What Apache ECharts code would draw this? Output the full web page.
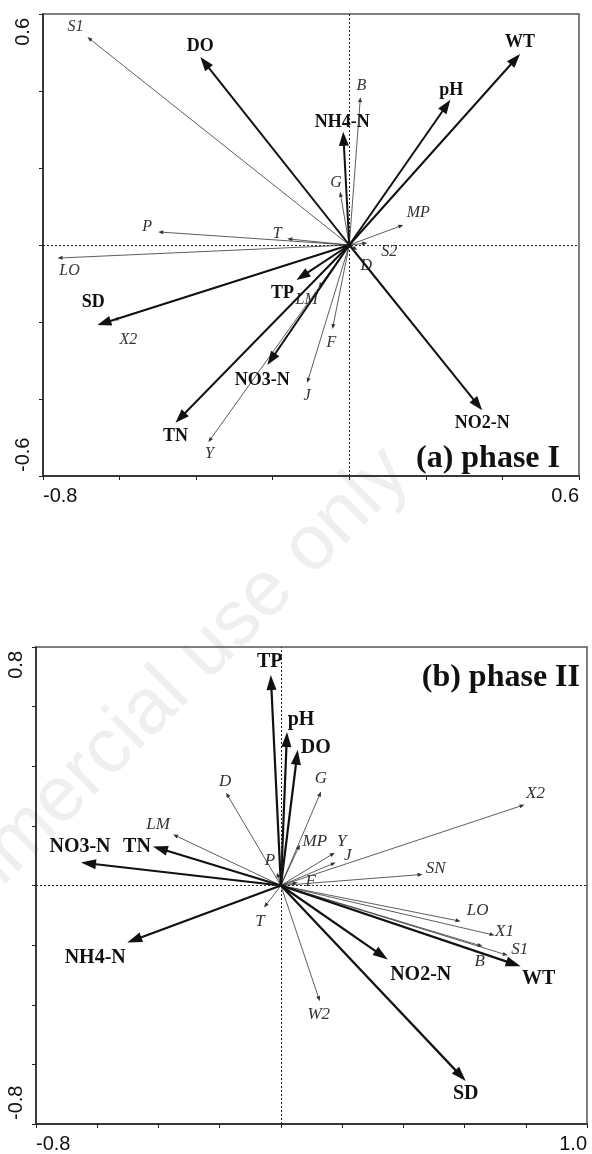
<!DOCTYPE html>
<html>
<head>
<meta charset="utf-8">
<script src="https://cdn.jsdelivr.net/npm/echarts@6/dist/echarts.min.js"></script>
<style>
html,body{margin:0;padding:0;background:#fff;}
#chart{width:592px;height:1154px;}
</style>
</head>
<body>
<div id="chart"></div>
<script>
// ---------- DATA ----------
// Panel (a) phase I : environmental variables
const aEnvNames = ['DO','NH4-N','pH','WT','SD','TP','NO3-N','TN','NO2-N'];
const aEnvX = [-0.389,-0.016,0.264,0.446,-0.658,-0.138,-0.214,-0.454,0.347];
const aEnvY = [0.488,0.294,0.377,0.496,-0.208,-0.091,-0.312,-0.462,-0.429];
// Panel (a) phase I : species
const aSpNames = ['S1','P','T','LO','X2','Y','J','F','LM','D','S2','MP','G','B'];
const aSpX = [-0.684,-0.499,-0.162,-0.762,-0.616,-0.368,-0.110,-0.044,-0.080,0.021,0.047,0.141,-0.024,0.029];
const aSpY = [0.540,0.034,0.016,-0.034,-0.195,-0.512,-0.358,-0.218,-0.110,-0.013,0.005,0.052,0.138,0.384];
// Panel (b) phase II : environmental variables
const bEnvNames = ['TP','pH','DO','NO3-N','TN','NH4-N','NO2-N','WT','SD'];
const bEnvX = [-0.033,0.020,0.055,-0.653,-0.418,-0.502,0.349,0.783,0.604];
const bEnvY = [0.706,0.515,0.455,0.077,0.131,-0.191,-0.248,-0.271,-0.656];
// Panel (b) phase II : species
const bSpNames = ['D','LM','P','T','MP','Y','J','F','G','X2','SN','LO','X1','S1','B','W2'];
const bSpX = [-0.179,-0.352,-0.013,-0.055,0.062,0.176,0.179,0.055,0.131,0.796,0.463,0.587,0.698,0.741,0.659,0.127];
const bSpY = [0.311,0.171,0.044,-0.074,0.137,0.110,0.077,0.010,0.315,0.271,0.037,-0.120,-0.167,-0.234,-0.204,-0.388];
// Axis tick labels (shown only at the ends)
const aXTickLabels = ['-0.8','0.6'];
const aYTickLabels = ['-0.6','0.6'];
const bXTickLabels = ['-0.8','1.0'];
const bYTickLabels = ['-0.8','0.8'];
const panelTitles = ['(a) phase I','(b) phase II'];
const watermarkText = 'For non-commercial use only';

// ---------- LAYOUT (label offsets in pixels, relative to arrow tips) ----------
const aEnvOff = {'DO':[0,-11],'NH4-N':[-1,-9],'pH':[1,-10],'WT':[0,-12],'SD':[-4,-23],'TP':[-14,13],'NO3-N':[-5,15],'TN':[0,13],'NO2-N':[0,13]};
const aSpOff = {'S1':[-12,-10],'P':[-11,-5],'T':[-10,-5],'LO':[12,13],'X2':[15,20],'Y':[1,12],'J':[0,13],'F':[-1,14],'LM':[-12,12],'D':[9,16],'S2':[22,9],'MP':[15,-12],'G':[-4,-9],'B':[1,-11]};
const bEnvOff = {'TP':[-1,-13],'pH':[14,-12],'DO':[18,-2],'NO3-N':[-1,-16],'TN':[-16,0],'NH4-N':[-32,15],'NO2-N':[33,15],'WT':[18,13],'SD':[0,13]};
const bSpOff = {'D':[-1,-11],'LM':[-15,-10],'P':[-7,-12],'T':[-4,14],'MP':[15,-3],'Y':[7,-11],'J':[12,-7],'F':[13,-1],'G':[0,-13],'X2':[11,-11],'SN':[13,-6],'LO':[17,-11],'X1':[10,-4],'S1':[12,-6],'B':[-3,15],'W2':[-1,13]};

const envStyleA = {color:'#111', lw:2, headLen:14, headW:5, font:'bold 18px "Liberation Serif"', labelColor:'#111'};
const spStyleA  = {color:'#333', lw:0.8, headLen:5, headW:2, font:'italic 16px "Liberation Serif"', labelColor:'#333'};
const envStyleB = {color:'#111', lw:2.2, headLen:15, headW:5, font:'bold 20px "Liberation Serif"', labelColor:'#111'};
const spStyleB  = {color:'#333', lw:0.8, headLen:5, headW:2, font:'italic 17px "Liberation Serif"', labelColor:'#333'};

function arrowSeries(idx, names, xs, ys, st, offs, z){
  return {
    type:'custom', xAxisIndex:idx, yAxisIndex:idx, z:z,
    encode:{x:0,y:1},
    data: xs.map((x,i)=>[x, ys[i]]),
    renderItem:function(params, api){
      const name = names[params.dataIndex];
      const o = api.coord([0,0]);
      const t = api.coord([api.value(0), api.value(1)]);
      const dx = t[0]-o[0], dy = t[1]-o[1];
      const L = Math.hypot(dx,dy)||1;
      const ux = dx/L, uy = dy/L;
      const bx = t[0]-ux*st.headLen, by = t[1]-uy*st.headLen;
      const off = offs[name] || [0,0];
      return {type:'group', children:[
        {type:'line', shape:{x1:o[0],y1:o[1],x2:bx+ux*2,y2:by+uy*2}, style:{stroke:st.color, lineWidth:st.lw}},
        {type:'polygon', shape:{points:[[t[0],t[1]],[bx-uy*st.headW,by+ux*st.headW],[bx+uy*st.headW,by-ux*st.headW]]}, style:{fill:st.color}},
        {type:'text', x:t[0]+off[0], y:t[1]+off[1], style:{text:name, font:st.font, fill:st.labelColor, align:'center', verticalAlign:'middle'}}
      ]};
    }
  };
}

function zeroLines(idx){
  return {
    type:'line', xAxisIndex:idx, yAxisIndex:idx, data:[], silent:true,
    markLine:{silent:true, symbol:'none', label:{show:false},
      lineStyle:{type:[2,2], color:'#222', width:1},
      data:[{xAxis:0},{yAxis:0}]}
  };
}

function endLabelFormatter(minV, maxV, labels){
  return function(v){
    if (Math.abs(v-minV) < 1e-6) return labels[0];
    if (Math.abs(v-maxV) < 1e-6) return labels[1];
    return '';
  };
}

const axisCommon = {
  type:'value', interval:0.2, splitLine:{show:false},
  axisLine:{show:true, onZero:false, lineStyle:{color:'#222', width:1.5}},
  axisTick:{show:true, inside:false, length:4, lineStyle:{color:'#222', width:1}}
};
const labelFont = {fontFamily:'"Liberation Sans"', fontSize:20, color:'#111'};

const chart = echarts.init(document.getElementById('chart'), null, {renderer:'canvas'});
const option = {
  animation:false,
  backgroundColor:'#fff',
  graphic:[{
    type:'text', x:425, y:489, rotation:Math.PI/4, z:-10, silent:true,
    style:{text:watermarkText, font:'78px "Liberation Sans"', fill:'#efefef', align:'right', verticalAlign:'bottom'}
  }],
  title:[
    {text:panelTitles[0], right:27, top:438, textStyle:{fontFamily:'"Liberation Serif"', fontWeight:'bold', fontSize:32, color:'#111'}},
    {text:panelTitles[1], right:7, top:657, textStyle:{fontFamily:'"Liberation Serif"', fontWeight:'bold', fontSize:32, color:'#111'}}
  ],
  grid:[
    {left:43, top:14, right:13, bottom:678, show:true, borderColor:'#555', borderWidth:1.5, backgroundColor:'transparent'},
    {left:36, top:647, right:5, bottom:29, show:true, borderColor:'#555', borderWidth:1.5, backgroundColor:'transparent'}
  ],
  xAxis:[
    Object.assign({}, axisCommon, {gridIndex:0, min:-0.8, max:0.6,
      axisLabel:Object.assign({show:true, margin:10, alignMinLabel:'left', alignMaxLabel:'right', formatter:endLabelFormatter(-0.8,0.6,aXTickLabels)}, labelFont)}),
    Object.assign({}, axisCommon, {gridIndex:1, min:-0.8, max:1.0,
      axisLabel:Object.assign({show:true, margin:10, alignMinLabel:'left', alignMaxLabel:'right', formatter:endLabelFormatter(-0.8,1.0,bXTickLabels)}, labelFont)})
  ],
  yAxis:[
    Object.assign({}, axisCommon, {gridIndex:0, min:-0.6, max:0.6,
      axisLabel:Object.assign({show:true, margin:10, rotate:90, alignMinLabel:'left', alignMaxLabel:'right', padding:[0,4,0,4], formatter:endLabelFormatter(-0.6,0.6,aYTickLabels)}, labelFont)}),
    Object.assign({}, axisCommon, {gridIndex:1, min:-0.8, max:0.8,
      axisLabel:Object.assign({show:true, margin:10, rotate:90, alignMinLabel:'left', alignMaxLabel:'right', padding:[0,4,0,4], formatter:endLabelFormatter(-0.8,0.8,bYTickLabels)}, labelFont)})
  ],
  series:[
    zeroLines(0),
    zeroLines(1),
    arrowSeries(0, aSpNames, aSpX, aSpY, spStyleA, aSpOff, 3),
    arrowSeries(0, aEnvNames, aEnvX, aEnvY, envStyleA, aEnvOff, 4),
    arrowSeries(1, bSpNames, bSpX, bSpY, spStyleB, bSpOff, 3),
    arrowSeries(1, bEnvNames, bEnvX, bEnvY, envStyleB, bEnvOff, 4)
  ]
};
chart.setOption(option);
</script>
</body>
</html>
